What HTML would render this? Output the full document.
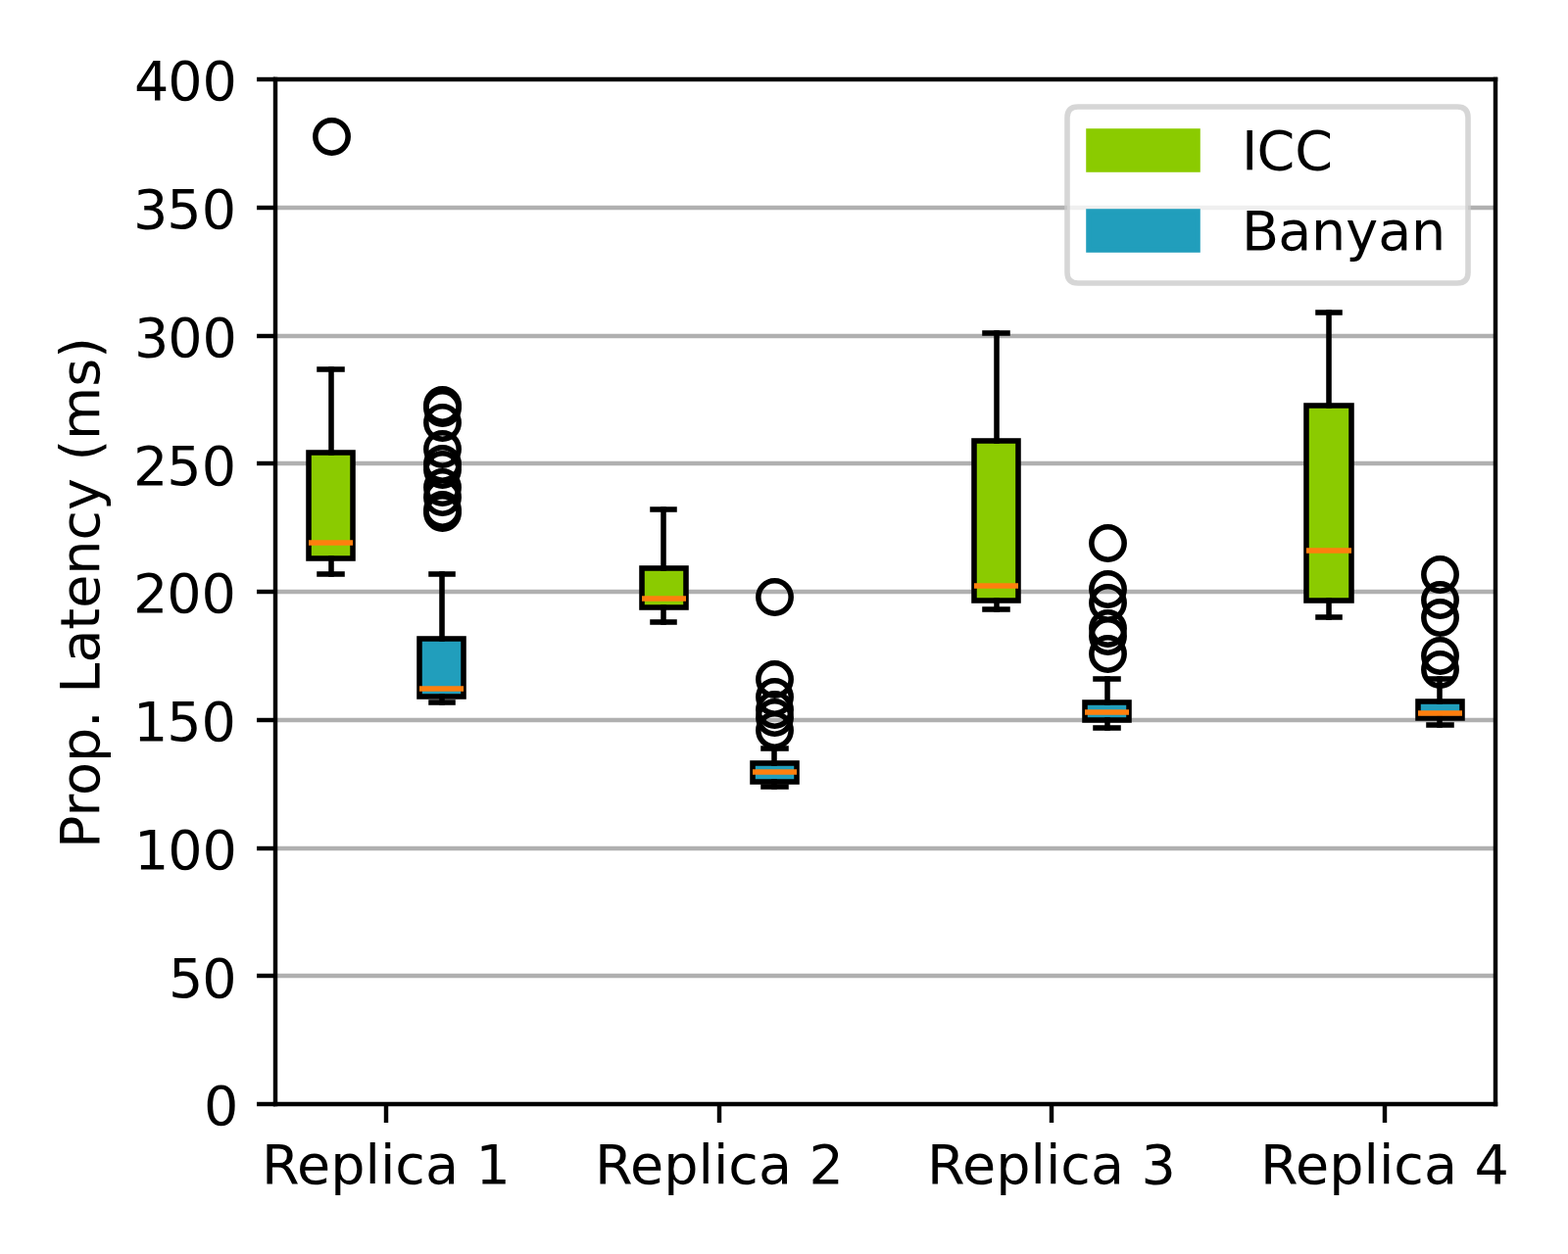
<!DOCTYPE html>
<html lang="en">
<head>
<meta charset="utf-8">
<title>Prop. Latency (ms) per replica: ICC vs Banyan</title>
<style>
html,body{margin:0;padding:0;background:#fff;}
body{width:1600px;height:1280px;overflow:hidden;}
svg{display:block;position:absolute;left:0;top:0;}
text{font-family:"DejaVu Sans","Liberation Sans",sans-serif;font-size:55.556px;fill:#000;white-space:pre;}
.grid line{stroke:#b0b0b0;stroke-width:4.444;}
.tick line{stroke:#000;stroke-width:4.444;}
.spine line{stroke:#000;stroke-width:4.444;stroke-linecap:square;}
.wh line{stroke:#000;stroke-width:5.556;stroke-linecap:square;}
.box rect{stroke:#000;stroke-width:5.556;stroke-linejoin:miter;}
.med line{stroke:#ff7f0e;stroke-width:5.556;stroke-linecap:butt;}
.fl circle{fill:none;stroke:#000;stroke-width:5.556;}
</style>
</head>
<body>
<svg width="1600" height="1280" viewBox="0 0 1600 1280" role="img" aria-label="Box plot of proposal latency per replica for ICC and Banyan">
<rect x="0" y="0" width="1600" height="1280" fill="#ffffff"/>
<g class="grid">
<line x1="281" y1="996" x2="1526" y2="996"/>
<line x1="281" y1="866" x2="1526" y2="866"/>
<line x1="281" y1="735" x2="1526" y2="735"/>
<line x1="281" y1="604" x2="1526" y2="604"/>
<line x1="281" y1="473" x2="1526" y2="473"/>
<line x1="281" y1="343" x2="1526" y2="343"/>
<line x1="281" y1="212" x2="1526" y2="212"/>
</g>
<g id="icc1">
<g class="box"><rect x="315" y="462" width="45" height="108" fill="#8bcb00"/></g>
<g class="wh">
<line x1="338" y1="570" x2="338" y2="586"/>
<line x1="338" y1="462" x2="338" y2="377"/>
<line x1="326" y1="586" x2="349" y2="586"/>
<line x1="326" y1="377" x2="349" y2="377"/>
</g>
<g class="med"><line x1="315" y1="554" x2="360" y2="554"/></g>
<g class="fl">
<circle cx="338.5" cy="139.5" r="16.667"/>
</g>
</g>
<g id="ban1">
<g class="box"><rect x="428" y="652" width="45" height="59" fill="#219ebc"/></g>
<g class="wh">
<line x1="451" y1="711" x2="451" y2="717"/>
<line x1="451" y1="652" x2="451" y2="586"/>
<line x1="440" y1="717" x2="462" y2="717"/>
<line x1="440" y1="586" x2="462" y2="586"/>
</g>
<g class="med"><line x1="428" y1="703" x2="473" y2="703"/></g>
<g class="fl">
<circle cx="451.5" cy="413.5" r="16.667"/>
<circle cx="451.5" cy="416.5" r="16.667"/>
<circle cx="451.5" cy="431.5" r="16.667"/>
<circle cx="451.5" cy="458.5" r="16.667"/>
<circle cx="451.5" cy="473.5" r="16.667"/>
<circle cx="451.5" cy="479.5" r="16.667"/>
<circle cx="451.5" cy="497.5" r="16.667"/>
<circle cx="451.5" cy="507.5" r="16.667"/>
<circle cx="451.5" cy="520.5" r="16.667"/>
<circle cx="451.5" cy="523.5" r="16.667"/>
</g>
</g>
<g id="icc2">
<g class="box"><rect x="655" y="580" width="45" height="40" fill="#8bcb00"/></g>
<g class="wh">
<line x1="677" y1="620" x2="677" y2="635"/>
<line x1="677" y1="580" x2="677" y2="520"/>
<line x1="666" y1="635" x2="688" y2="635"/>
<line x1="666" y1="520" x2="688" y2="520"/>
</g>
<g class="med"><line x1="655" y1="611" x2="700" y2="611"/></g>
</g>
<g id="ban2">
<g class="box"><rect x="768" y="779" width="45" height="19" fill="#219ebc"/></g>
<g class="wh">
<line x1="790" y1="798" x2="790" y2="803"/>
<line x1="790" y1="779" x2="790" y2="764"/>
<line x1="779" y1="803" x2="802" y2="803"/>
<line x1="779" y1="764" x2="802" y2="764"/>
</g>
<g class="med"><line x1="768" y1="788" x2="813" y2="788"/></g>
<g class="fl">
<circle cx="790.5" cy="609.5" r="16.667"/>
<circle cx="790.5" cy="693.5" r="16.667"/>
<circle cx="790.5" cy="711.5" r="16.667"/>
<circle cx="790.5" cy="724.5" r="16.667"/>
<circle cx="790.5" cy="732.5" r="16.667"/>
<circle cx="790.5" cy="745.5" r="16.667"/>
</g>
</g>
<g id="icc3">
<g class="box"><rect x="994" y="450" width="45" height="163" fill="#8bcb00"/></g>
<g class="wh">
<line x1="1017" y1="613" x2="1017" y2="622"/>
<line x1="1017" y1="450" x2="1017" y2="340"/>
<line x1="1005" y1="622" x2="1028" y2="622"/>
<line x1="1005" y1="340" x2="1028" y2="340"/>
</g>
<g class="med"><line x1="994" y1="598" x2="1039" y2="598"/></g>
</g>
<g id="ban3">
<g class="box"><rect x="1107" y="717" width="45" height="18" fill="#219ebc"/></g>
<g class="wh">
<line x1="1130" y1="735" x2="1130" y2="743"/>
<line x1="1130" y1="717" x2="1130" y2="693"/>
<line x1="1118" y1="743" x2="1141" y2="743"/>
<line x1="1118" y1="693" x2="1141" y2="693"/>
</g>
<g class="med"><line x1="1107" y1="727" x2="1152" y2="727"/></g>
<g class="fl">
<circle cx="1130.5" cy="554.5" r="16.667"/>
<circle cx="1130.5" cy="601.5" r="16.667"/>
<circle cx="1130.5" cy="615.5" r="16.667"/>
<circle cx="1130.5" cy="641.5" r="16.667"/>
<circle cx="1130.5" cy="649.5" r="16.667"/>
<circle cx="1130.5" cy="667.5" r="16.667"/>
</g>
</g>
<g id="icc4">
<g class="box"><rect x="1333" y="414" width="46" height="199" fill="#8bcb00"/></g>
<g class="wh">
<line x1="1356" y1="613" x2="1356" y2="630"/>
<line x1="1356" y1="414" x2="1356" y2="319"/>
<line x1="1345" y1="630" x2="1367" y2="630"/>
<line x1="1345" y1="319" x2="1367" y2="319"/>
</g>
<g class="med"><line x1="1333" y1="562" x2="1379" y2="562"/></g>
</g>
<g id="ban4">
<g class="box"><rect x="1447" y="716" width="45" height="17" fill="#219ebc"/></g>
<g class="wh">
<line x1="1469" y1="733" x2="1469" y2="740"/>
<line x1="1469" y1="716" x2="1469" y2="693"/>
<line x1="1458" y1="740" x2="1481" y2="740"/>
<line x1="1458" y1="693" x2="1481" y2="693"/>
</g>
<g class="med"><line x1="1447" y1="728" x2="1492" y2="728"/></g>
<g class="fl">
<circle cx="1469.5" cy="586.5" r="16.667"/>
<circle cx="1469.5" cy="612.5" r="16.667"/>
<circle cx="1469.5" cy="630.5" r="16.667"/>
<circle cx="1469.5" cy="669.5" r="16.667"/>
<circle cx="1469.5" cy="683.5" r="16.667"/>
</g>
</g>
<g class="tick">
<line x1="262" y1="1127" x2="281" y2="1127"/>
<line x1="262" y1="996" x2="281" y2="996"/>
<line x1="262" y1="866" x2="281" y2="866"/>
<line x1="262" y1="735" x2="281" y2="735"/>
<line x1="262" y1="604" x2="281" y2="604"/>
<line x1="262" y1="473" x2="281" y2="473"/>
<line x1="262" y1="343" x2="281" y2="343"/>
<line x1="262" y1="212" x2="281" y2="212"/>
<line x1="262" y1="81" x2="281" y2="81"/>
<line x1="394" y1="1127" x2="394" y2="1146"/>
<line x1="734" y1="1127" x2="734" y2="1146"/>
<line x1="1073" y1="1127" x2="1073" y2="1146"/>
<line x1="1413" y1="1127" x2="1413" y2="1146"/>
</g>
<g class="spine">
<line x1="281" y1="81" x2="281" y2="1127"/>
<line x1="1526" y1="81" x2="1526" y2="1127"/>
<line x1="281" y1="1127" x2="1526" y2="1127"/>
<line x1="281" y1="81" x2="1526" y2="81"/>
</g>
<g class="ylab">
<text x="207.958" y="1147.94">0</text>
<text x="171.988 206.188" y="1018.01">50</text>
<text x="137.023 171.227 206.438" y="886.96">100</text>
<text x="136.023 170.227 205.438" y="755.91">150</text>
<text x="136.023 170.227 205.438" y="624.96">200</text>
<text x="136.023 170.227 205.688" y="495.01">250</text>
<text x="137.023 171.227 206.438" y="364.05">300</text>
<text x="136.023 170.227 205.688" y="233.05">350</text>
<text x="137.023 171.227 206.438" y="102.1">400</text>
</g>
<g class="xlab">
<text x="266.938 302.957 337.198 372.467 388.013 403.198 434.003 467.962 485.552" y="1207.91">Replica 1</text>
<text x="606.958 642.987 677.218 712.487 728.032 743.227 774.023 807.93 825.458" y="1207.91">Replica 2</text>
<text x="945.958 981.987 1016.218 1051.488 1067.032 1082.228 1113.022 1146.93 1164.458" y="1207.91">Replica 3</text>
<text x="1285.988 1322.007 1356.248 1391.512 1406.938 1422.252 1453.052 1486.95 1504.478" y="1207.91">Replica 4</text>
</g>
<text class="ytitle" x="-262.033 -229.513 -207.962 -174.052 -139.033 -121.37 -103.717 -72.533 -38.728 -16.698 17.217 52.543 82.967 115.837 133.497 155.033 209.273 238.217" y="0" transform="translate(100.9 604) rotate(-90)">Prop. Latency (ms)</text>
<g class="legend">
<path d="M1100,289 L1487,289 Q1498,289 1498,278 L1498,120 Q1498,109 1487,109 L1100,109 Q1089,109 1089,120 L1089,278 Q1089,289 1100,289 Z" fill="#ffffff" fill-opacity="0.8" stroke="#cccccc" stroke-opacity="0.8" stroke-width="5.556" stroke-linejoin="miter"/>
<rect x="1111" y="134" width="111" height="39" fill="#8bcb00" stroke="#8bcb00" stroke-width="5.556" stroke-linejoin="miter"/>
<rect x="1111" y="216" width="111" height="39" fill="#219ebc" stroke="#219ebc" stroke-width="5.556" stroke-linejoin="miter"/>
<text x="1267.002 1282.502 1321.282" y="173.01">ICC</text>
<text x="1267.002 1304.218 1338.012 1373.218 1406.218 1440.002" y="254.95">Banyan</text>
</g>
</svg>
</body>
</html>
